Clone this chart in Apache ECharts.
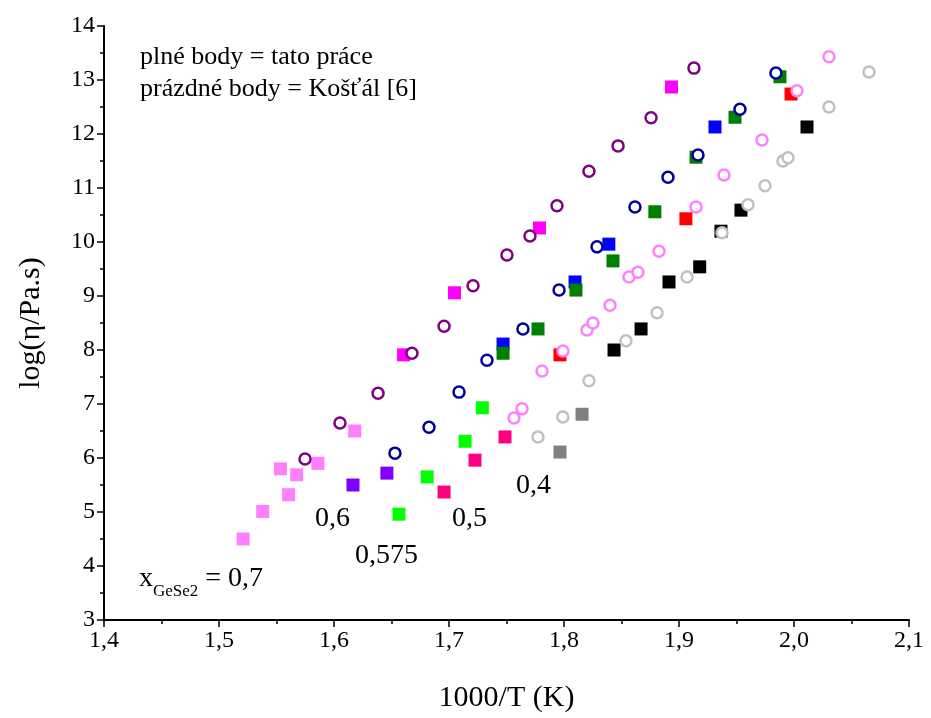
<!DOCTYPE html>
<html><head><meta charset="utf-8">
<script src="https://cdn.jsdelivr.net/npm/echarts@6/dist/echarts.min.js"></script>
<style>html,body{margin:0;padding:0;background:#fff}#c{width:931px;height:718px}</style>
</head><body><div id="c"></div>
<script>
// ---- data (filled squares = this work) ----
var sqLightPink = [[1.521,4.50],[1.538,5.01],[1.5605,5.32],[1.5535,5.80],[1.5675,5.69],[1.586,5.90],[1.618,6.50]];
var sqMagenta   = [[1.6605,7.91],[1.7048,9.06],[1.7787,10.26],[1.8935,12.87]];
var sqViolet    = [[1.6165,5.50],[1.646,5.72]];
var sqGreen     = [[1.6565,4.96],[1.681,5.65],[1.714,6.31],[1.729,6.93]];
var sqCrimson   = [[1.6957,5.37],[1.7226,5.96],[1.7487,6.39]];
var sqRed       = [[1.7965,7.91],[1.906,10.43],[1.9974,12.74]];
var sqBlue      = [[1.747,8.11],[1.8096,9.26],[1.839,9.96],[1.9313,12.13]];
var sqDarkGreen = [[1.747,7.94],[1.7774,8.39],[1.8104,9.11],[1.8426,9.65],[1.879,10.56],[1.9148,11.57],[1.9487,12.31],[1.9878,13.06]];
var sqBlack     = [[1.8435,8.00],[1.867,8.39],[1.8913,9.26],[1.918,9.54],[1.9365,10.20],[1.9539,10.59],[2.0113,12.13]];
var sqGray      = [[1.7965,6.11],[1.8157,6.81]];
// ---- open circles = Košťál [6] ----
var ciPurple = [[1.5748,5.98],[1.6052,6.65],[1.6383,7.20],[1.6678,7.94],[1.6957,8.44],[1.7209,9.19],[1.7504,9.76],[1.7704,10.11],[1.7939,10.67],[1.8217,11.31],[1.847,11.78],[1.8757,12.30],[1.913,13.22]];
var ciNavy   = [[1.653,6.09],[1.6826,6.57],[1.7087,7.22],[1.733,7.81],[1.7643,8.39],[1.7957,9.11],[1.8287,9.91],[1.8617,10.65],[1.8904,11.20],[1.9165,11.61],[1.953,12.46],[1.9843,13.13]];
var ciPink   = [[1.7565,6.74],[1.7635,6.91],[1.7809,7.61],[1.7991,7.98],[1.82,8.37],[1.8252,8.50],[1.84,8.83],[1.8565,9.35],[1.8643,9.44],[1.8826,9.83],[1.9148,10.65],[1.9391,11.24],[1.9722,11.89],[2.0026,12.80],[2.0304,13.43]];
var ciGray   = [[1.7774,6.39],[1.799,6.76],[1.8217,7.43],[1.8539,8.17],[1.8809,8.69],[1.907,9.35],[1.9374,10.17],[1.96,10.69],[1.9748,11.04],[1.9904,11.50],[1.9948,11.56],[2.0304,12.50],[2.0652,13.15]];
// ---- axis ticks ----
var xMin = 1.4, xMax = 2.1, xStep = 0.1;
var yMin = 3, yMax = 14, yStep = 1;

var FONT = '"Liberation Serif","Times New Roman",serif';
function sq(name, data, color){
  return {name:name,type:'scatter',data:data,symbol:'rect',symbolSize:13,
    itemStyle:{color:color,opacity:1},z:2,silent:true};
}
function ci(name, data, color){
  return {name:name,type:'scatter',data:data,symbol:'circle',symbolSize:11,
    itemStyle:{color:'#ffffff',borderColor:color,borderWidth:2.5,opacity:1},z:3,silent:true};
}
var chart = echarts.init(document.getElementById('c'), null, {renderer:'canvas'});
chart.setOption({
  animation:false,
  backgroundColor:'#ffffff',
  grid:{left:104,right:22,top:26,bottom:98,containLabel:false},
  xAxis:{type:'value',min:xMin,max:xMax,interval:xStep,
    name:'1000/T (K)',nameLocation:'middle',nameGap:63,
    nameTextStyle:{fontFamily:FONT,fontSize:30,color:'#000'},
    axisLine:{show:true,onZero:false,lineStyle:{color:'#000',width:2}},
    axisTick:{show:true,inside:false,length:7,lineStyle:{color:'#000',width:1.5}},
    minorTick:{show:true,splitNumber:2,length:4,lineStyle:{color:'#000',width:1.5}},
    splitLine:{show:false},
    axisLabel:{fontFamily:FONT,fontSize:24,color:'#000',margin:9,
      formatter:function(v){return v.toFixed(1).replace('.',',');}}
  },
  yAxis:{type:'value',min:yMin,max:yMax,interval:yStep,
    name:'log(η/Pa.s)',nameLocation:'middle',nameGap:58,
    nameTextStyle:{fontFamily:FONT,fontSize:30,color:'#000'},
    axisLine:{show:true,onZero:false,lineStyle:{color:'#000',width:2}},
    axisTick:{show:true,inside:false,length:7,lineStyle:{color:'#000',width:1.5}},
    minorTick:{show:true,splitNumber:2,length:4,lineStyle:{color:'#000',width:1.5}},
    splitLine:{show:false},
    axisLabel:{fontFamily:FONT,fontSize:24,color:'#000',margin:9,
      formatter:function(v){return String(Math.round(v));}}
  },
  series:[
    sq('0,7',sqLightPink,'#ff80ff'),
    sq('m',sqMagenta,'#ff00ff'),
    sq('0,6',sqViolet,'#8000ff'),
    sq('0,575',sqGreen,'#00ff00'),
    sq('0,5',sqCrimson,'#ff0080'),
    sq('r',sqRed,'#ff0000'),
    sq('b',sqBlue,'#0000ff'),
    sq('g',sqDarkGreen,'#008000'),
    sq('k',sqBlack,'#000000'),
    sq('0,4',sqGray,'#808080'),
    ci('cp',ciPurple,'#800080'),
    ci('cn',ciNavy,'#000099'),
    ci('cpk',ciPink,'#ff80ff'),
    ci('cg',ciGray,'#c0c0c0')
  ],
  graphic:[
    {type:'text',left:140,top:44,style:{text:'plné body = tato práce',font:'26px '+FONT,fill:'#000'}},
    {type:'text',left:140,top:76,style:{text:'prázdné body = Košťál [6]',font:'26px '+FONT,fill:'#000'}},
    {type:'text',left:516,top:472,style:{text:'0,4',font:'28px '+FONT,fill:'#000'}},
    {type:'text',left:452,top:505,style:{text:'0,5',font:'28px '+FONT,fill:'#000'}},
    {type:'text',left:355,top:542,style:{text:'0,575',font:'28px '+FONT,fill:'#000'}},
    {type:'text',left:315,top:505,style:{text:'0,6',font:'28px '+FONT,fill:'#000'}},
    {type:'text',left:139,top:565,style:{
      text:'{a|x}{b|GeSe2}{a| = 0,7}',
      rich:{a:{fontFamily:FONT,fontSize:28,fill:'#000',color:'#000',verticalAlign:'bottom'},
            b:{fontFamily:FONT,fontSize:17,color:'#000',fill:'#000',verticalAlign:'bottom',padding:[0,0,-7,0]}}
    }}
  ]
});
</script>
</body></html>
